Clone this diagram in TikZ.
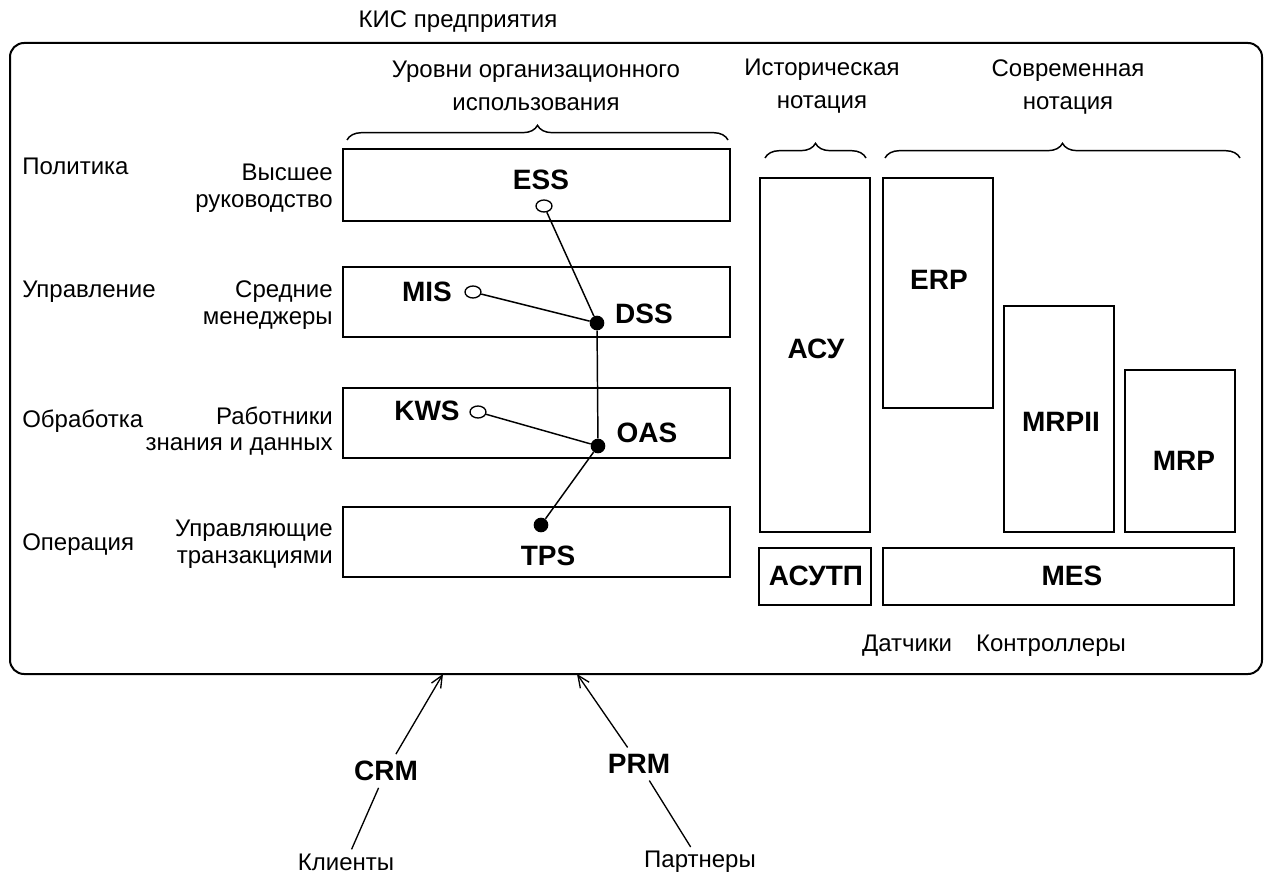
\documentclass[tikz,border=0pt]{standalone}
\usepackage{fontspec}
\setmainfont{Liberation Sans}
\usetikzlibrary{arrows.meta,shapes.geometric,fit,decorations.pathreplacing}

\begin{document}
\begin{tikzpicture}[x=0.75pt,y=-0.75pt,
  txt/.style={font=\fontsize{18}{20}\selectfont, inner sep=0pt},
  lbl/.style={font=\fontsize{21}{24}\selectfont\bfseries, inner sep=0pt},
  sysbox/.style={draw, line width=1.5pt, inner sep=0pt},
  frame/.style={draw, line width=1.5pt, rounded corners=10.5pt, inner sep=0pt},
  link/.style={line width=1.1pt},
  opendot/.style={ellipse, draw, fill=white, line width=1pt, minimum width=12pt, minimum height=9pt, inner sep=0pt},
  soliddot/.style={circle, fill=black, minimum size=11pt, inner sep=0pt},
  span/.style={decorate, decoration={brace, amplitude=11pt}, line width=1.1pt},
  feed/.style={line width=1pt, -{Straight Barb[length=9pt,width=8pt,line width=1pt]}}
]
\useasboundingbox (0,0) rectangle (1271,877);

% enterprise frame
\node[frame, fit={(10,43) (1262,674)}] (kis) {};
\node[txt] (kis title) at (458,22) {КИС предприятия};

% column headings and braces
\node[txt, align=center, font=\fontsize{18}{25}\selectfont] (levels) at (536,86) {Уровни организационного\\использования};
\node[txt, align=center, font=\fontsize{18}{25}\selectfont] (hist) at (822,86) {Историческая\\нотация};
\node[txt, align=center, font=\fontsize{18}{25}\selectfont] (modern) at (1068,87) {Современная\\нотация};
\draw[span] (347,140) -- (728,140);
\draw[span] (765,158) -- (866,158);
\draw[span] (885,158) -- (1240,158);

% level names
\node[txt, anchor=west] (politics) at (22,166) {Политика};
\node[txt, anchor=west] (control) at (22,292) {Управление};
\node[txt, anchor=west] (processing) at (22,421) {Обработка};
\node[txt, anchor=west] (operation) at (22,545) {Операция};

\node[txt, align=right, anchor=east] (top mgmt) at (333,188) {Высшее\\руководство};
\node[txt, align=right, anchor=east] (mid mgmt) at (333,305) {Средние\\менеджеры};
\node[txt, align=right, anchor=east] (workers) at (333,431) {Работники\\знания и данных};
\node[txt, align=right, anchor=east] (trans) at (333,544) {Управляющие\\транзакциями};

% level boxes
\node[sysbox, fit={(343,149) (730,221)}] (b1) {};
\node[sysbox, fit={(343,267) (730,337)}] (b2) {};
\node[sysbox, fit={(343,388) (730,458)}] (b3) {};
\node[sysbox, fit={(343,507) (730,577)}] (b4) {};

% systems inside the levels
\node[lbl] (ess) at (541,180) {ESS};
\node[lbl] (mis) at (427,292) {MIS};
\node[lbl] (dss) at (644,314) {DSS};
\node[lbl] (kws) at (427,411) {KWS};
\node[lbl] (oas) at (647,433) {OAS};
\node[lbl] (tps) at (548,556) {TPS};

\node[opendot] (ess c) at (544,206) {};
\node[opendot] (mis c) at (473,292) {};
\node[opendot] (kws c) at (478,412) {};
\node[soliddot] (dss c) at (597,323) {};
\node[soliddot] (oas c) at (598,446) {};
\node[soliddot] (tps c) at (541,525) {};

\draw[link] (ess c) -- (dss c);
\draw[link] (mis c) -- (dss c);
\draw[link] (dss c) -- (oas c);
\draw[link] (kws c) -- (oas c);
\draw[link] (oas c) -- (tps c);

% historical and modern notation
\node[sysbox, fit={(760,178) (870,532)}] (asu box) {};
\node[sysbox, fit={(883,178) (993,408)}] (erp box) {};
\node[sysbox, fit={(1004,306) (1114,532)}] (mrp2 box) {};
\node[sysbox, fit={(1125,370) (1235,532)}] (mrp box) {};
\node[sysbox, fit={(759,548) (871,605)}] (asutp box) {};
\node[sysbox, fit={(883,548) (1234,605)}] (mes box) {};

\node[lbl] (asu) at (816,349) {АСУ};
\node[lbl] (erp) at (939,280) {ERP};
\node[lbl] (mrp2) at (1061,422) {MRPII};
\node[lbl] (mrp) at (1184,461) {MRP};
\node[lbl] (asutp) at (816,576) {АСУТП};
\node[lbl] (mes) at (1072,576) {MES};

\node[txt, anchor=base] (sensors) at (907,651) {Датчики};
\node[txt, anchor=base] (plcs) at (1051,651) {Контроллеры};

% external relations
\node[lbl, inner sep=5pt] (crm) at (386,771) {CRM};
\node[lbl, inner sep=5pt] (prm) at (639,764) {PRM};
\node[txt, inner sep=3pt] (clients) at (346,862) {Клиенты};
\node[txt, inner sep=3pt] (partners) at (700,862) {Партнеры};
\coordinate (crm in) at (443,674);
\coordinate (prm in) at (577,674);

\draw[feed] (crm) -- (crm in);
\draw[feed] (prm) -- (prm in);
\draw[link, line width=1pt] (crm) -- (clients);
\draw[link, line width=1pt] (prm) -- (partners);
\end{tikzpicture}
\end{document}
